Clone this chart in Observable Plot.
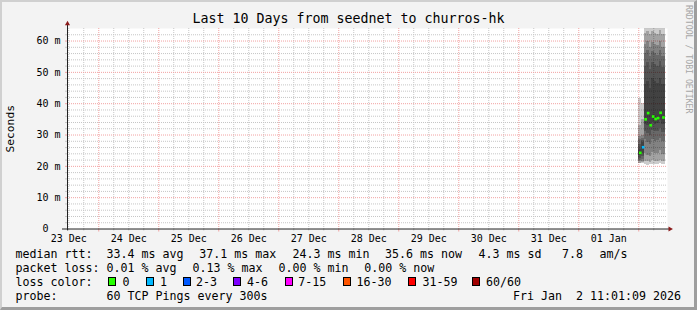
<!DOCTYPE html>
<html><head><meta charset="utf-8">
<script src="https://cdn.jsdelivr.net/npm/d3@7"></script>
<script src="https://cdn.jsdelivr.net/npm/@observablehq/plot@0.6"></script>
<style>
html,body{margin:0;padding:0;background:#f3f3f3;}
#wrap{position:relative;width:697px;height:310px;background:#f3f3f3;overflow:hidden;font-family:"DejaVu Sans Mono",monospace;color:#000;}
#frame{position:absolute;left:0;top:0;width:697px;height:310px;box-sizing:border-box;border-style:solid;border-width:2px 3px 3px 2px;border-color:#d0d0d0 #9e9e9e #9e9e9e #d0d0d0;pointer-events:none;}
#chart{position:absolute;left:0;top:0;}
.t{position:absolute;white-space:pre;font-size:11.63px;line-height:12px;}
.box{position:absolute;box-sizing:border-box;width:8px;height:9px;border:1px solid #000;}
#title{position:absolute;left:0;width:697px;top:11px;text-align:center;font-size:13.3px;line-height:16px;white-space:pre;}
#ylab{position:absolute;left:4.8px;top:104.5px;writing-mode:vertical-rl;transform:rotate(180deg);font-size:11.3px;line-height:12px;}
#wm{position:absolute;left:684px;top:5px;writing-mode:vertical-rl;font-size:8.2px;line-height:9px;color:#a6a6a6;white-space:pre;}
</style>
</head><body>
<div id="wrap">
  <div id="title"></div>
  <div id="chart"></div>
  <div id="ylab"></div>
  <div id="wm"></div>
  <div id="legend"></div>
  <div id="frame"></div>
</div>
<script>
// ---- data ----
const titleText = "Last 10 Days from seednet to churros-hk";
const yLabel = "Seconds";
const watermark = "RRDTOOL / TOBI OETIKER";
const xStart = new Date("2025-12-23T11:30:00Z");
const xEnd = new Date("2026-01-02T11:30:00Z");
const yMax = 64;
const dayLabels = ["23 Dec","24 Dec","25 Dec","26 Dec","27 Dec","28 Dec","29 Dec","30 Dec","31 Dec","01 Jan"];
const yMajor = [10, 20, 30, 40, 50, 60];
const yLabelsText = ["10 m","20 m","30 m","40 m","50 m","60 m"];
const colStart = ["2026-01-02T00:00:00Z","2026-01-02T01:15:00Z","2026-01-02T02:15:00Z","2026-01-02T03:15:00Z","2026-01-02T04:15:00Z","2026-01-02T05:15:00Z","2026-01-02T06:15:00Z","2026-01-02T07:15:00Z","2026-01-02T08:15:00Z","2026-01-02T09:15:00Z"];
const colEnd   = ["2026-01-02T01:15:00Z","2026-01-02T02:15:00Z","2026-01-02T03:15:00Z","2026-01-02T04:15:00Z","2026-01-02T05:15:00Z","2026-01-02T06:15:00Z","2026-01-02T07:15:00Z","2026-01-02T08:15:00Z","2026-01-02T09:15:00Z","2026-01-02T10:30:00Z"];
const medians = [24.3, 26.1, 35.0, 37.0, 33.1, 35.9, 35.1, 35.4, 37.1, 35.6];
const lossIdx = [0, 1, 0, 0, 0, 0, 0, 0, 0, 0];
// sorted ping samples (ms) per column, drawn as nested smoke bands
const smoke = [
  [20.8, 21.0, 21.4, 21.9, 22.6, 23.4, 25.5, 27.0, 28.6, 29.4, 33.0, 41.5],
  [20.9, 21.1, 21.6, 22.2, 23.0, 24.0, 27.5, 28.4, 29.0, 30.0, 35.0, 40.0],
  [20.6, 21.6, 24.0, 28.5, 31.0, 33.5, 46.0, 52.0, 56.0, 59.0, 62.5, 80.0],
  [20.4, 21.4, 23.5, 27.5, 30.5, 33.0, 47.0, 53.0, 57.0, 60.0, 63.0, 82.0],
  [20.5, 21.2, 23.0, 27.0, 30.0, 32.5, 45.0, 51.0, 55.0, 58.0, 62.0, 78.0],
  [20.7, 21.8, 24.5, 28.5, 31.5, 34.0, 48.0, 53.0, 56.5, 59.5, 63.0, 85.0],
  [20.5, 21.5, 24.0, 28.0, 31.0, 33.5, 47.0, 52.5, 56.0, 59.0, 62.5, 80.0],
  [20.6, 21.7, 24.2, 28.2, 31.2, 33.8, 46.5, 52.0, 55.5, 58.5, 62.0, 79.0],
  [20.8, 22.0, 25.0, 29.0, 32.0, 34.5, 48.0, 53.5, 57.0, 60.0, 63.5, 88.0],
  [20.5, 21.4, 23.8, 27.8, 30.8, 33.2, 46.0, 51.5, 55.0, 58.0, 62.0, 76.0]
];
const lossLabels = ["0","1","2-3","4-6","7-15","16-30","31-59","60/60"];
const lossColors = ["#26ff00","#00b8ff","#0059ff","#7e00ff","#ff00ff","#ff5500","#ff0000","#a10000"];
const rttStats = ["33.4 ms avg","37.1 ms max","24.3 ms min","35.6 ms now","4.3 ms sd","7.8","am/s"];
const lossStats = ["0.01 % avg","0.13 % max","0.00 % min","0.00 % now"];
const probeText = "60 TCP Pings every 300s";
const stampText = "Fri Jan  2 11:01:09 2026";

// ---- derived ----
const cols = colStart.map((s, i) => ({
  start: new Date(s), end: new Date(colEnd[i]), median: medians[i], loss: lossIdx[i], pings: smoke[i]
}));
const bands = [];
cols.forEach(c => { for (let k = 0; k < 6; k++) bands.push({start: c.start, end: c.end, lo: c.pings[k], hi: c.pings[11 - k]}); });
const midnights = d3.utcDay.range(xStart, xEnd);
const sixHours = d3.utcHour.every(6).range(xStart, xEnd).filter(d => d.getUTCHours() !== 0);
const noons = midnights.map(d => d3.utcHour.offset(d, -12));
const labelOf = new Map(noons.map((d, i) => [d.getTime(), dayLabels[i]]));
const yMinor = d3.range(2, yMax, 2).filter(v => v % 10 !== 0);
const yLabelOf = new Map(yMajor.map((v, i) => [v, yLabelsText[i]]));

const gridMinor = "#c6c6c6", gridMajor = "#f2a2a2", axisCol = "#222", arrowCol = "#8b1a1a";

const chart = Plot.plot({
  width: 697, height: 245,
  marginLeft: 67, marginRight: 30, marginTop: 28, marginBottom: 16.5,
  style: {background: "transparent", fontFamily: "'DejaVu Sans Mono', monospace", fontSize: "10px", color: "#000", overflow: "visible"},
  x: {type: "utc", domain: [xStart, xEnd], axis: null},
  y: {domain: [0, yMax], axis: null},
  marks: [
    Plot.frame({fill: "white", stroke: "none"}),
    Plot.ruleX(sixHours, {stroke: gridMinor, strokeDasharray: "1,1"}),
    Plot.ruleY(yMinor, {stroke: gridMinor, strokeDasharray: "1,1"}),
    Plot.ruleX(midnights, {stroke: gridMajor, strokeDasharray: "1,1"}),
    Plot.ruleY(yMajor, {stroke: gridMajor, strokeDasharray: "1,1"}),
    Plot.rect(bands, {x1: "start", x2: "end", y1: "lo", y2: "hi", fill: "black", fillOpacity: 0.2, clip: true, shapeRendering: "crispEdges"}),
    Plot.dot(cols, {x: d => new Date((d.start.getTime() + d.end.getTime()) / 2), y: "median", symbol: "square", r: 1.5, fill: d => lossColors[d.loss], stroke: "none"}),
    // axes ticks
    Plot.axisX(sixHours, {tickSize: 2, tickPadding: 0, tickFormat: () => "", stroke: gridMinor}),
    Plot.axisX(midnights, {tickSize: 3, tickPadding: 0, tickFormat: () => "", stroke: gridMajor}),
    Plot.axisX(noons, {tickSize: 0, tickPadding: 6, tickFormat: d => labelOf.get(d.getTime()), fill: "#000"}),
    Plot.axisY(yMinor, {tickSize: 2, tickPadding: 0, tickFormat: () => "", stroke: gridMinor}),
    Plot.axisY(yMajor, {tickSize: 2, tickPadding: 5, tickFormat: d => yLabelOf.get(d), stroke: gridMajor, fill: "#000"}),
    Plot.axisY([0], {tickSize: 0, tickPadding: 19, tickFormat: d => String(d), fill: "#000"}),
    // axis lines and arrows
    Plot.ruleY([0], {x1: d3.utcHour.offset(xStart, -1.6), x2: d3.utcHour.offset(xEnd, 1.2), stroke: axisCol}),
    Plot.ruleX([xStart], {y1: -0.6, y2: yMax + 1.8, stroke: axisCol}),
    Plot.dot([xStart], {x: d => d, y: () => yMax + 1.5, symbol: "triangle", r: 1.9, fill: arrowCol, stroke: "none"}),
    Plot.dot([xEnd], {x: d => d3.utcHour.offset(d, 1.4), y: () => 0, symbol: "triangle", r: 1.9, rotate: 90, fill: arrowCol, stroke: "none"})
  ]
});
document.getElementById("chart").appendChild(chart);

document.getElementById("title").textContent = titleText;
document.getElementById("ylab").textContent = yLabel;
document.getElementById("wm").textContent = watermark;

// ---- legend ----
const legend = document.getElementById("legend");
function txt(s, x, baseline) {
  const e = document.createElement("div");
  e.className = "t"; e.textContent = s;
  e.style.left = x + "px"; e.style.top = (baseline - 10) + "px";
  legend.appendChild(e);
}
const rows = [258, 272, 286, 299.5];
txt("median rtt:", 15.5, rows[0]);
[106.6, 199.3, 292.6, 385, 478.6, 562, 599.5].forEach((x, i) => txt(rttStats[i], x, rows[0]));
txt("packet loss:", 15.5, rows[1]);
[106.6, 192.6, 278.6, 364.3].forEach((x, i) => txt(lossStats[i], x, rows[1]));
txt("loss color:", 15.5, rows[2]);
const boxX = [108.3, 145.7, 182.7, 233.3, 285, 342.7, 408.3, 472.3];
const lblX = [122.6, 160.0, 196.0, 247.0, 298.3, 356.6, 422.6, 486.0];
lossLabels.forEach((l, i) => {
  const b = document.createElement("div");
  b.className = "box"; b.style.left = boxX[i] + "px"; b.style.top = (rows[2] - 9) + "px";
  b.style.background = lossColors[i];
  legend.appendChild(b);
  txt(l, lblX[i], rows[2]);
});
txt("probe:", 15.5, rows[3]);
txt(probeText, 106.6, rows[3]);
txt(stampText, 513, rows[3]);
</script>
</body></html>
